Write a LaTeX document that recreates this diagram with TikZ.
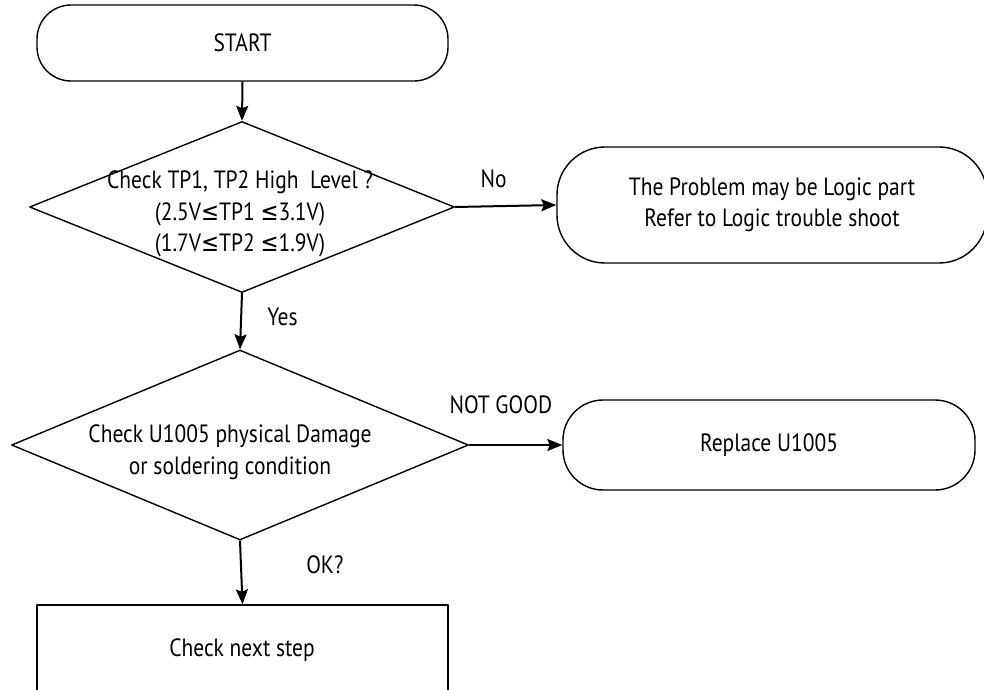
\documentclass[tikz,border=0pt]{standalone}
\usepackage{fontspec}
\setmainfont{PT Sans}[FakeStretch=0.86]
\newfontfamily\symfont{DejaVu Sans}[FakeStretch=0.86]
\newcommand{\lesym}{{\symfont ≤}}
\usetikzlibrary{shapes.geometric}
\usetikzlibrary{arrows.meta}
\tikzstyle{every node}=[font=\fontsize{25}{31.5}\selectfont]
\tikzstyle{terminal}=[draw,rectangle,align=center,inner sep=0pt]
\tikzstyle{decision}=[draw,diamond,inner sep=0pt]
\tikzstyle{flow}=[line width=2pt,-{Stealth[length=15pt,width=12pt,inset=2.5pt]}]

\begin{document}
\begin{tikzpicture}[x=1pt,y=-1pt,line width=1.4pt,line join=round]
    % Page frame
    \useasboundingbox (0,0) rectangle (984,689);

    % Terminals and boxes
    \node [terminal,rounded corners=34pt,minimum width=411pt,minimum height=76pt] (start) at (242.5,43) {START};
    \node [terminal,rounded corners=48pt,minimum width=430pt,minimum height=116pt] (logic) at (772,205)
        {The Problem may be Logic part\\Refer to Logic trouble shoot};
    \node [terminal,rounded corners=40pt,minimum width=412pt,minimum height=90pt] (replace) at (769,445) {Replace U1005};
    \node [terminal,minimum width=411pt,minimum height=110pt] (next) at (242.5,660) {};
    \node (nexttxt) at (242,650) {Check next step};

    % Decisions (text laid over the diamonds)
    \node [decision,minimum width=425pt,minimum height=171pt] (tpchk) at (242,207) {};
    \node [align=center] (tptxt) at (240,214)
        {Check TP1, TP2 High\ \ Level ?\\(2.5V\lesym TP1 \lesym3.1V)\\(1.7V\lesym TP2 \lesym1.9V)};
    \node [decision,minimum width=457pt,minimum height=190pt] (ucheck) at (240,445) {};
    \node [align=center] (utxt) at (230,452)
        {Check U1005 physical Damage\\or soldering condition};

    % Connections
    \draw [flow] (start.south) -- (tpchk.north);
    \draw [flow] (tpchk.east) -- node [pos=0.38,above=14pt] (nolbl) {No} (logic.west);
    \draw [flow] (tpchk.south) -- node [pos=0.42,right=22pt] (yeslbl) {Yes} (ucheck.north);
    \draw [flow] (ucheck.east) -- node [pos=0.34,above=27pt] (nglbl) {NOT GOOD} (replace.west);
    \draw [flow] (ucheck.south) -- node [pos=0.38,right=61pt] (oklbl) {OK?} (next.north);
\end{tikzpicture}
\end{document}
